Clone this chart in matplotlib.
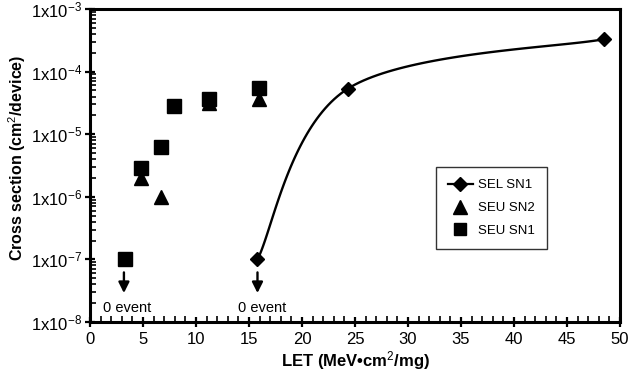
import matplotlib
matplotlib.use('Agg')
import matplotlib.pyplot as plt
from matplotlib.lines import Line2D
from matplotlib.ticker import FixedLocator, MultipleLocator, LogLocator, NullFormatter
import numpy as np

plt.rcParams['font.family'] = ['Liberation Sans', 'DejaVu Sans']
plt.rcParams['mathtext.fontset'] = 'custom'
plt.rcParams['mathtext.rm'] = 'Liberation Sans'
plt.rcParams['mathtext.it'] = 'Liberation Sans:italic'
plt.rcParams['mathtext.bf'] = 'Liberation Sans:bold'

# data
sel_x = [15.8, 24.3, 48.5]
sel_y = [1e-7, 5.3e-5, 3.3e-4]
seu2_x = [4.8, 6.7, 11.2, 15.9]
seu2_y = [2.0e-6, 1.0e-6, 3.2e-5, 3.6e-5]
seu1_x = [3.3, 4.8, 6.7, 7.9, 11.2, 15.9]
seu1_y = [1.0e-7, 2.9e-6, 6.3e-6, 2.8e-5, 3.6e-5, 5.5e-5]
zero_event_x = [3.2, 15.8]
zero_text_x = [3.5, 16.2]
y_exponents = [-8, -7, -6, -5, -4, -3]
x_ticks = [0, 5, 10, 15, 20, 25, 30, 35, 40, 45, 50]


def excel_smooth(ax, xs, ys, n=50):
    # bezier smoothing done in screen space, like a spreadsheet "smoothed line"
    P = ax.transData.transform(np.column_stack([xs, ys]))
    out = []
    t = np.linspace(0, 1, n)[:, None]
    for i in range(len(P) - 1):
        p0 = P[max(i - 1, 0)]; p1 = P[i]; p2 = P[i + 1]; p3 = P[min(i + 2, len(P) - 1)]
        c1 = p1 + (p2 - p0) / 6
        c2 = p2 - (p3 - p1) / 6
        out.append((1 - t)**3 * p1 + 3 * (1 - t)**2 * t * c1 + 3 * (1 - t) * t**2 * c2 + t**3 * p2)
    return ax.transData.inverted().transform(np.vstack(out))


fig = plt.figure(figsize=(6.31, 3.75), dpi=100)
ax = fig.add_axes([90 / 631, 1 - 322 / 375, 530 / 631, 313 / 375])
ax.set_yscale('log')
ax.set_xlim(0, 50)
ax.set_ylim(1e-8, 1e-3)

curve = excel_smooth(ax, sel_x, sel_y)
ax.plot(curve[:, 0], curve[:, 1], color='black', lw=1.7, zorder=2)
ax.plot(sel_x, sel_y, 'D', color='black', ms=7.5, zorder=4)
ax.plot(seu2_x, seu2_y, '^', color='black', ms=10, zorder=3)
ax.plot(seu1_x, seu1_y, 's', color='black', ms=9.5, zorder=4)

for xa, xt in zip(zero_event_x, zero_text_x):
    ax.annotate('', xy=(xa, 2.9e-8), xytext=(xa, 6.2e-8),
                arrowprops=dict(arrowstyle='-|>', color='black', lw=1.7, mutation_scale=16,
                                shrinkA=0, shrinkB=0))
    ax.text(xt, 1.65e-8, '0 event', ha='center', va='center', fontsize=10.5)

ax.xaxis.set_major_locator(FixedLocator(x_ticks))
ax.xaxis.set_minor_locator(MultipleLocator(1))
ax.yaxis.set_major_locator(FixedLocator([10.0**e for e in y_exponents]))
ax.set_yticklabels([r'1x10$^{%d}$' % e for e in y_exponents])
ax.yaxis.set_minor_locator(LogLocator(base=10, subs=np.arange(2, 10)))
ax.yaxis.set_minor_formatter(NullFormatter())
ax.tick_params(which='major', direction='inout', length=7, width=1.6, labelsize=12)
ax.tick_params(which='minor', direction='in', length=4, width=1.2)
ax.tick_params(axis='x', which='major', pad=4)
ax.tick_params(axis='y', which='major', pad=2)

for s in ax.spines.values():
    s.set_linewidth(2.2)

ax.set_xlabel('LET (MeV•cm$^{2}$/mg)', fontsize=12, fontweight='bold', va='center')
ax.xaxis.set_label_coords(0.5, -0.123)
ax.set_ylabel('Cross section (cm$^{2}$/device)', fontsize=11.5, fontweight='bold', va='center')
ax.yaxis.set_label_coords(-0.137, 0.525)

handles = [
    Line2D([], [], color='black', lw=1.6, marker='D', ms=7.5),
    Line2D([], [], color='black', lw=0, marker='^', ms=10),
    Line2D([], [], color='black', lw=0, marker='s', ms=8),
]
leg = ax.legend(handles, ['SEL SN1', 'SEU SN2', 'SEU SN1'], loc='center',
                bbox_to_anchor=(0.757, 0.364), fontsize=9.5, frameon=True, fancybox=False,
                edgecolor='black', labelspacing=0.8, handlelength=1.9, borderpad=0.9,
                handletextpad=0.4)
leg.get_frame().set_linewidth(1.0)

fig.savefig('out.png', dpi=100)
